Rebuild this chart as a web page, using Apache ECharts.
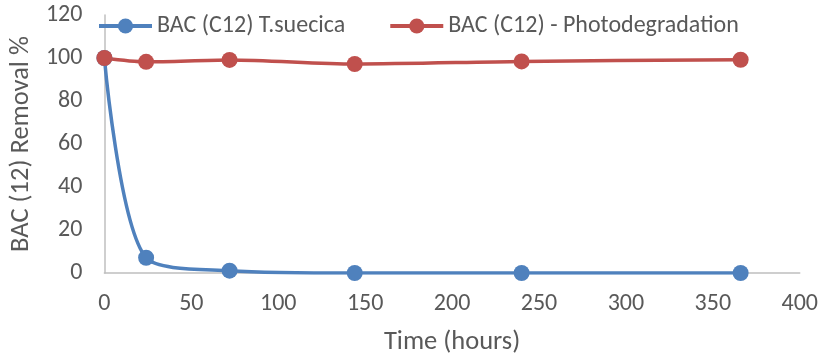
<!DOCTYPE html>
<html><head><meta charset="utf-8">
<script src="https://cdn.jsdelivr.net/npm/echarts@6/dist/echarts.min.js"></script>
<style>html,body{margin:0;padding:0;background:#fff}#c{width:821px;height:361px}</style>
</head><body><div id="c"></div>
<script>
const hours = [0, 24, 72, 144, 240, 366];
const suecica = [100, 7.1, 1.1, 0, 0, 0];
const photo = [100, 98.2, 99.1, 97.2, 98.4, 99.2];
const seriesNames = ['BAC (C12) T.suecica', 'BAC (C12) - Photodegradation'];
const xName = 'Time (hours)';
const yName = 'BAC (12) Removal %';

const font = 'Carlito, Calibri, "Open Sans", "Liberation Sans", sans-serif';
const txt = '#595959';
const chart = echarts.init(document.getElementById('c'), null, {renderer: 'canvas'});
chart.setOption({
  animation: false,
  textStyle: {fontFamily: font},
  grid: {left: 104, right: 21, top: 15, bottom: 85.3, containLabel: false},
  legend: {
    top: 9, left: 92, itemGap: 43, itemWidth: 53, itemHeight: 19,
    lineStyle: {width: 4},
    textStyle: {fontFamily: font, fontSize: 24, color: txt},
    data: seriesNames
  },
  xAxis: {
    type: 'value', min: 0, max: 400, interval: 50,
    name: xName, nameLocation: 'middle', nameGap: 56,
    nameTextStyle: {fontFamily: font, fontSize: 26.5, color: txt},
    axisLine: {show: true, onZero: false, lineStyle: {color: '#bfbfbf', width: 1.5}},
    axisTick: {show: false},
    splitLine: {show: false},
    axisLabel: {fontFamily: font, fontSize: 24, color: txt, margin: 19}
  },
  yAxis: {
    type: 'value', min: 0, max: 120, interval: 20,
    name: yName, nameLocation: 'middle', nameGap: 69,
    nameTextStyle: {fontFamily: font, fontSize: 26.5, color: txt},
    axisLine: {show: true, lineStyle: {color: '#bfbfbf', width: 1.5}},
    axisTick: {show: false},
    splitLine: {show: false},
    axisLabel: {fontFamily: font, fontSize: 24, color: txt, margin: 22}
  },
  series: [
    {
      name: seriesNames[0], type: 'line', smooth: 0.3,
      data: hours.map((h, i) => [h, suecica[i]]),
      symbol: 'circle', symbolSize: 16,
      itemStyle: {color: '#4f81bd'},
      lineStyle: {color: '#4f81bd', width: 3.5}
    },
    {
      name: seriesNames[1], type: 'line', smooth: 0.3,
      data: hours.map((h, i) => [h, photo[i]]),
      symbol: 'circle', symbolSize: 16,
      itemStyle: {color: '#c0504d'},
      lineStyle: {color: '#c0504d', width: 3.5}
    }
  ]
});
</script></body></html>
